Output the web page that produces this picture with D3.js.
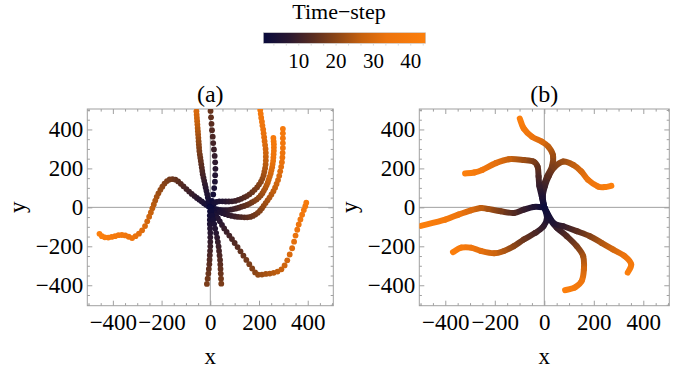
<!DOCTYPE html>
<html>
<head>
<meta charset="utf-8">
<script src="https://cdn.jsdelivr.net/npm/d3@7"></script>
<style>
  body { margin: 0; background: #fff; }
  text { font-family: "Liberation Serif", "Times New Roman", serif; fill: #000; }
</style>
</head>
<body>
<svg id="chart" width="682" height="370"></svg>
<script>
// ---- data ----
const majorTicks = [-400, -200, 0, 200, 400];
const legendTicks = [10, 20, 30, 40];
const maxStep = 44;

// panel (a): one dot per time step, t = index + 1
const aLeft = [[0,0],[-8,6],[-17,13],[-26,21],[-35,30],[-45,39],[-55,48],[-65,58],[-76,69],[-87,81],[-98,94],[-110,108],[-121,121],[-132,133],[-143,142],[-155,145],[-167,143],[-178,135],[-188,122],[-197,106],[-205,90],[-213,72],[-220,54],[-226,35],[-232,15],[-238,-5],[-244,-26],[-251,-48],[-259,-72],[-268,-96],[-280,-118],[-293,-135],[-307,-148],[-321,-158],[-335,-151],[-349,-144],[-363,-142],[-377,-143],[-391,-148],[-405,-152],[-419,-155],[-433,-154],[-445,-148],[-455,-136]];
const aUpLeft = [[0,0],[-3,17],[-7,34],[-10,51],[-13,68],[-16,85],[-19,102],[-22,119],[-25,136],[-28,153],[-31,170],[-33,187],[-35,204],[-37,221],[-39,238],[-41,255],[-43,272],[-45,289],[-46,306],[-47,323],[-48,340],[-49,357],[-50,374],[-51,391],[-52,408],[-53,425],[-54,442],[-55,459],[-56,476],[-57,493]];
const aUp = [[0,0],[7,33],[12,66],[16,99],[19,132],[20,165],[21,198],[20,231],[18,264],[15,297],[12,330],[10,363],[7,396],[5,429],[3,462],[1,495]];
const aRightA = [[0,0],[8,10],[15,20],[25,28],[37,31],[50,31],[63,30],[76,30],[89,31],[102,33],[115,38],[127,44],[139,51],[150,58],[161,67],[172,78],[182,90],[192,103],[200,117],[208,132],[214,148],[219,165],[222,183],[225,201],[227,220],[228,240],[228,260],[228,280],[227,300],[225,320],[223,340],[221,360],[219,380],[217,400],[214,420],[212,440],[209,460],[207,480],[205,500]];
const aRightB = [[0,0],[9,-4],[19,-8],[29,-11],[40,-13],[51,-15],[62,-15],[73,-14],[84,-12],[95,-9],[106,-6],[117,-2],[128,3],[139,7],[150,12],[160,18],[170,25],[180,32],[190,40],[199,50],[207,61],[214,73],[220,86],[226,99],[231,113],[236,128],[240,143],[244,158],[248,174],[251,190],[254,206],[256,222],[258,239],[259,256],[260,273],[261,290],[261,307],[261,324],[260,340],[259,356]];
const aRightC = [[0,0],[8,-6],[17,-12],[27,-18],[38,-24],[50,-30],[62,-35],[75,-40],[88,-44],[101,-47],[114,-49],[127,-50],[140,-51],[152,-51],[164,-49],[175,-44],[185,-37],[195,-28],[204,-17],[212,-5],[219,8],[227,22],[235,36],[243,50],[251,66],[259,83],[266,101],[272,120],[278,140],[283,162],[287,185],[291,208],[294,232],[296,256],[297,280],[298,305],[298,330],[298,355],[298,380],[298,403]];
const aDownRight = [[0,0],[6,-10],[12,-20],[18,-31],[24,-43],[31,-56],[39,-72],[48,-90],[57,-108],[67,-126],[78,-145],[89,-163],[100,-183],[112,-204],[124,-226],[136,-248],[148,-270],[160,-292],[172,-314],[184,-334],[196,-346],[212,-345],[228,-342],[244,-340],[260,-336],[276,-330],[292,-318],[305,-298],[316,-272],[326,-242],[336,-210],[344,-176],[350,-145],[357,-115],[363,-88],[370,-62],[377,-38],[384,-14],[390,6],[394,24]];
const aDown = [[0,0],[-1,-20],[-2,-42],[-2,-64],[-2,-86],[-1,-108],[0,-131],[0,-154],[0,-177],[0,-200],[-1,-223],[-2,-246],[-3,-269],[-4,-292],[-6,-316],[-8,-340],[-11,-366],[-14,-393]];
const aDownSlight = [[0,0],[4,-20],[8,-42],[12,-64],[16,-86],[20,-109],[24,-132],[28,-155],[31,-178],[34,-201],[36,-224],[38,-247],[40,-270],[41,-293],[42,-316],[43,-340],[44,-366],[45,-392]];
const panelAData = [aLeft, aUpLeft, aUp, aRightA, aRightB, aRightC, aDownRight, aDown, aDownSlight];

// panel (b): [time step, x, y] along each path
const bTop = [[1,0,0],[6,-9,56],[10,-3,107],[14,11,158],[18,31,209],[22,35,269],[26,17,311],[30,-9,337],[34,-49,362],[39,-83,405],[44,-99,456]];
const bUpRight = [[1,0,0],[6,-6,56],[10,2,107],[14,18,160],[18,40,205],[22,77,235],[26,117,218],[30,150,184],[34,177,141],[38,217,107],[41,244,104],[44,271,111]];
const bUpLeft = [[1,0,0],[5,-10,56],[9,-20,110],[12,-23,158],[15,-27,209],[18,-43,235],[22,-83,243],[27,-143,247],[32,-196,227],[37,-251,192],[40,-283,179],[44,-320,174]];
const bLeft = [[1,0,0],[5,-43,2],[9,-83,-12],[13,-123,-29],[18,-176,-20],[23,-229,-8],[26,-256,-3],[30,-296,-15],[35,-347,-37],[39,-400,-63],[44,-498,-95]];
const bDownLeft = [[1,0,0],[4,11,-54],[8,-3,-97],[12,-36,-131],[16,-83,-165],[20,-123,-199],[24,-163,-224],[28,-203,-236],[32,-256,-224],[36,-296,-207],[40,-336,-207],[44,-369,-230]];
const bDown = [[1,0,0],[5,24,-63],[9,51,-105],[13,91,-148],[18,131,-199],[23,157,-250],[29,160,-318],[35,151,-378],[39,124,-411],[44,84,-425]];
const bDownRight = [[1,0,0],[5,37,-80],[9,77,-97],[14,131,-122],[19,184,-148],[24,231,-182],[29,277,-216],[34,324,-250],[39,351,-292],[44,337,-335]];
const panelBData = [bTop, bUpRight, bUpLeft, bLeft, bDownLeft, bDown, bDownRight];

// ---- layout ----
const domainXY = [-505, 505];
const frameColor = '#a0a0a0';
const tickFont = 23;
const legendFont = 21;
const labelFont = 23;
const frameTop = 109;
const frameBottom = 305.7;

const color = d3.scaleLinear()
    .domain([1, 7.5, 14, 20.5, 27, 33.5, 44])
    .range(['#0b0b3b', '#2a1830', '#5a2d20', '#8f4716', '#c8620e', '#ec730d', '#fc7f0c'])
    .interpolate(d3.interpolateRgb)
    .clamp(true);

const svg = d3.select('#chart');
const defs = svg.append('defs');

// ---- colour legend ----
const legendX = d3.scaleLinear().domain([0.5, maxStep]).range([263.3, 425.7]);
const legendGrad = defs.append('linearGradient')
    .attr('id', 'legendGrad')
    .attr('gradientUnits', 'userSpaceOnUse')
    .attr('x1', legendX(1)).attr('x2', legendX(maxStep))
    .attr('y1', 0).attr('y2', 0);
legendGrad.selectAll('stop')
    .data(color.domain())
    .enter().append('stop')
    .attr('offset', d => (d - 1) / (maxStep - 1))
    .attr('stop-color', d => color(d));

const gLegend = svg.append('g');
gLegend.append('text')
    .attr('x', 339).attr('y', 18.5)
    .attr('text-anchor', 'middle')
    .attr('font-size', 22)
    .text('Time\u2212step');
gLegend.append('rect')
    .attr('x', legendX.range()[0]).attr('y', 32.7)
    .attr('width', legendX.range()[1] - legendX.range()[0])
    .attr('height', 10.6)
    .attr('fill', 'url(#legendGrad)')
    .attr('stroke', '#c8c8c8')
    .attr('stroke-width', 0.6);
gLegend.selectAll('.minor')
    .data(d3.range(10 / 3, maxStep, 10 / 3))
    .enter().append('line')
    .attr('x1', d => legendX(d)).attr('x2', d => legendX(d))
    .attr('y1', 43.6).attr('y2', 45.6)
    .attr('stroke', '#d0d0d0')
    .attr('stroke-width', 0.8);
gLegend.selectAll('.lbl')
    .data(legendTicks)
    .enter().append('text')
    .attr('x', d => legendX(d)).attr('y', 68)
    .attr('text-anchor', 'middle')
    .attr('font-size', legendFont)
    .text(d => d);

// ---- panels ----
function drawPanel(id, left, right, title) {
    const x = d3.scaleLinear().domain(domainXY).range([left, right]);
    const y = d3.scaleLinear().domain(domainXY).range([frameBottom, frameTop]);
    const g = svg.append('g');

    defs.append('clipPath').attr('id', 'clip' + id)
        .append('rect')
        .attr('x', left).attr('y', frameTop)
        .attr('width', right - left).attr('height', frameBottom - frameTop);

    // zero axes
    g.append('line')
        .attr('x1', left).attr('x2', right)
        .attr('y1', y(0)).attr('y2', y(0))
        .attr('stroke', frameColor).attr('stroke-width', 1);
    g.append('line')
        .attr('x1', x(0)).attr('x2', x(0))
        .attr('y1', frameBottom).attr('y2', frameTop)
        .attr('stroke', frameColor).attr('stroke-width', 1);

    const minorTicks = d3.range(-500, 501, 50).filter(v => v % 200 !== 0);
    const axes = [
        { axis: d3.axisBottom, scale: x, pos: 'translate(0,' + frameBottom + ')', labels: true, pad: 8 },
        { axis: d3.axisTop, scale: x, pos: 'translate(0,' + frameTop + ')', labels: false, pad: 3 },
        { axis: d3.axisLeft, scale: y, pos: 'translate(' + left + ',0)', labels: true, pad: 4 },
        { axis: d3.axisRight, scale: y, pos: 'translate(' + right + ',0)', labels: false, pad: 3 }
    ];
    axes.forEach(a => {
        const major = a.axis(a.scale).tickValues(majorTicks).tickSizeInner(-5).tickSizeOuter(0)
            .tickPadding(a.pad);
        if (!a.labels) major.tickFormat('');
        const ga = g.append('g').attr('transform', a.pos).call(major);
        ga.select('.domain').remove();
        ga.selectAll('line').attr('stroke', frameColor);
        ga.selectAll('text')
            .attr('font-size', tickFont)
            .attr('fill', '#000');
        const gm = g.append('g').attr('transform', a.pos)
            .call(a.axis(a.scale).tickValues(minorTicks).tickSizeInner(-2.6).tickSizeOuter(0).tickFormat(''));
        gm.select('.domain').remove();
        gm.selectAll('line').attr('stroke', frameColor);
    });

    g.append('rect')
        .attr('x', left).attr('y', frameTop)
        .attr('width', right - left).attr('height', frameBottom - frameTop)
        .attr('fill', 'none')
        .attr('stroke', frameColor)
        .attr('stroke-width', 1);

    g.append('text')
        .attr('x', x(0)).attr('y', 102)
        .attr('text-anchor', 'middle')
        .attr('font-size', 24)
        .text(title);
    g.append('text')
        .attr('x', x(0)).attr('y', 364)
        .attr('text-anchor', 'middle')
        .attr('font-size', labelFont)
        .text('x');
    g.append('text')
        .attr('transform', 'translate(' + (left - 62) + ',' + y(0) + ') rotate(-90)')
        .attr('text-anchor', 'middle')
        .attr('font-size', labelFont)
        .text('y');

    const gData = g.append('g').attr('clip-path', 'url(#clip' + id + ')');
    return { x, y, gData };
}

// panel (a): dots
const pa = drawPanel('a', 87.3, 333.3, '(a)');
panelAData.forEach(traj => {
    pa.gData.append('g').selectAll('circle')
        .data(traj)
        .enter().append('circle')
        .attr('cx', d => pa.x(d[0]))
        .attr('cy', d => pa.y(d[1]))
        .attr('r', 2.9)
        .attr('fill', (d, i) => color(i + 1));
});

// panel (b): thick smooth paths, colour graded by time step
const pb = drawPanel('b', 419.3, 669.3, '(b)');
panelBData.forEach((traj, k) => {
    const pts = traj.map(d => [pb.x(d[1]), pb.y(d[2])]);
    const segs = d3.pairs(d3.range(pts.length)).map(([i, j]) => {
        // Catmull-Rom tangent handles so that joints are smooth
        const p0 = pts[Math.max(i - 1, 0)], p1 = pts[i], p2 = pts[j], p3 = pts[Math.min(j + 1, pts.length - 1)];
        const c1 = [p1[0] + (p2[0] - p0[0]) / 6, p1[1] + (p2[1] - p0[1]) / 6];
        const c2 = [p2[0] - (p3[0] - p1[0]) / 6, p2[1] - (p3[1] - p1[1]) / 6];
        const gid = 'seg' + k + '_' + i;
        const grad = defs.append('linearGradient')
            .attr('id', gid)
            .attr('gradientUnits', 'userSpaceOnUse')
            .attr('x1', p1[0]).attr('y1', p1[1])
            .attr('x2', p2[0]).attr('y2', p2[1]);
        grad.append('stop').attr('offset', 0).attr('stop-color', color(traj[i][0]));
        grad.append('stop').attr('offset', 1).attr('stop-color', color(traj[j][0]));
        return { d: 'M' + p1 + 'C' + c1 + ' ' + c2 + ' ' + p2, gid };
    });
    pb.gData.append('g').selectAll('path')
        .data(segs)
        .enter().append('path')
        .attr('d', s => s.d)
        .attr('fill', 'none')
        .attr('stroke', s => 'url(#' + s.gid + ')')
        .attr('stroke-width', 6)
        .attr('stroke-linecap', 'round');
});
</script>
</body>
</html>
